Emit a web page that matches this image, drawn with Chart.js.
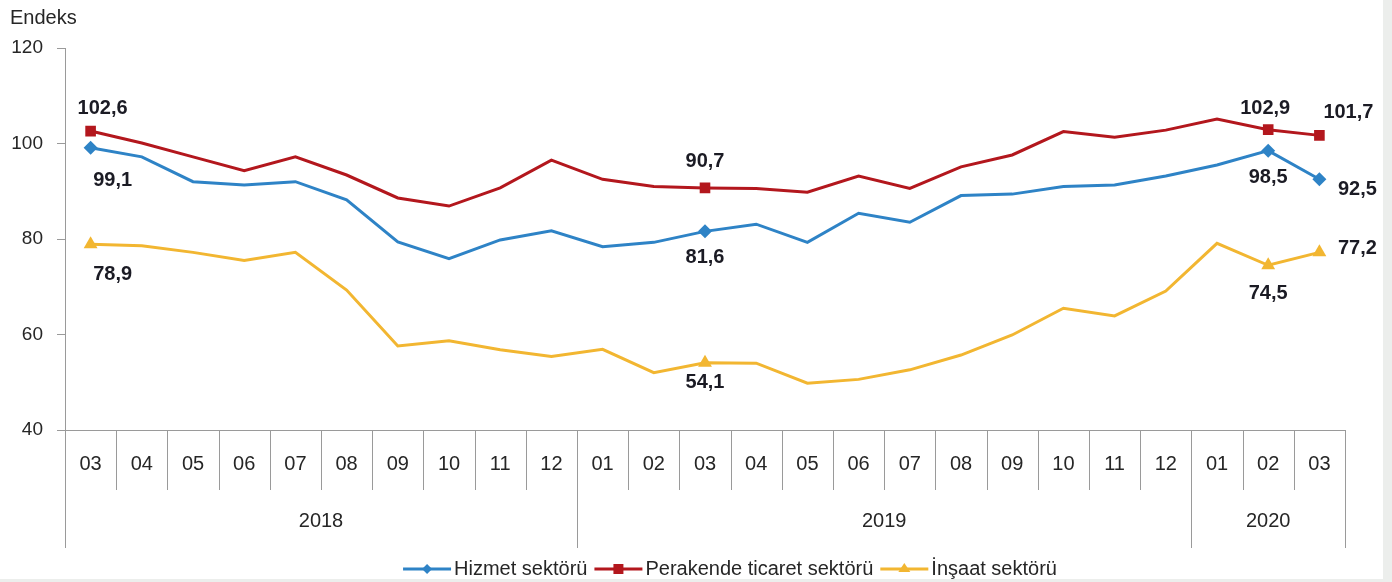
<!DOCTYPE html>
<html>
<head>
<meta charset="utf-8">
<script src="https://cdn.jsdelivr.net/npm/chart.js@4/dist/chart.umd.min.js"></script>
<style>
  body { margin: 0; background: linear-gradient(to right, #ffffff 1383px, #eceeec 1383px); }
  #wrap { position: relative; width: 1392px; height: 582px; }
  #wrap:after { content: ''; position: absolute; left: 0; right: 9px; bottom: 0; height: 3px; background: #eceeec; }
  canvas { display: block; }
</style>
</head>
<body>
<div id="wrap"><canvas id="chart" width="1392" height="582"></canvas></div>
<script>
// Aylar (2018/03 - 2020/03)
const months = ['03','04','05','06','07','08','09','10','11','12',
                '01','02','03','04','05','06','07','08','09','10','11','12',
                '01','02','03'];
const years = ['2018', '2019', '2020'];
const yearMonthCounts = [10, 12, 3];

// Seriler
const hizmet = [99.1, 97.2, 92.0, 91.3, 92.0, 88.2, 79.4, 75.9, 79.8, 81.7,
                78.4, 79.3, 81.6, 83.1, 79.3, 85.4, 83.5, 89.1, 89.4, 91.0, 91.3, 93.2,
                95.5, 98.5, 92.5];
const perakende = [102.6, 100.1, 97.2, 94.3, 97.2, 93.4, 88.6, 86.9, 90.7, 96.5,
                   92.5, 91.0, 90.7, 90.6, 89.8, 93.2, 90.6, 95.1, 97.6, 102.5, 101.3, 102.8,
                   105.1, 102.9, 101.7];
const insaat = [78.9, 78.6, 77.2, 75.5, 77.2, 69.3, 57.6, 58.7, 56.8, 55.4,
                56.9, 52.0, 54.1, 54.0, 49.8, 50.6, 52.6, 55.7, 59.9, 65.5, 63.9, 69.1,
                79.1, 74.5, 77.2];

// Etiketli noktalar
const markedIdx = [0, 12, 23, 24];

const colors = { hizmet: '#2e83c6', perakende: '#b3171d', insaat: '#f2b631' };
const axisColor = '#9a9a9a';
const textColor = '#262626';
const fontFam = '"Liberation Sans", Arial, sans-serif';

function radiusFor(r) {
    return ctx => markedIdx.includes(ctx.dataIndex) ? r : 0;
}

// Veri etiketlerinin konumu (nokta merkezine göre kaydırma)
const labelOffsets = [
    { 0: [22, 33], 12: [0, 26], 23: [0, 27], 24: [38, 10] },
    { 0: [12, -23], 12: [0, -26], 23: [-3, -21], 24: [29, -23] },
    { 0: [22, 30], 12: [0, 20], 23: [0, 28], 24: [38, -4] }
];

function fmt(v) { return v.toFixed(1).replace('.', ','); }

const customDraw = {
    id: 'customDraw',
    afterDraw(chart) {
        const ctx = chart.ctx;
        const area = chart.chartArea;
        const xs = chart.scales.x;
        const step = xs.getPixelForValue(1) - xs.getPixelForValue(0);
        const bottom = area.bottom;
        ctx.save();

        // Endeks başlığı
        ctx.fillStyle = textColor;
        ctx.font = '20px ' + fontFam;
        ctx.textAlign = 'left';
        ctx.textBaseline = 'middle';
        ctx.fillText('Endeks', 10, 18);

        // x ekseni
        ctx.strokeStyle = axisColor;
        ctx.lineWidth = 1;
        ctx.beginPath();
        ctx.moveTo(area.left, bottom + 0.5);
        ctx.lineTo(area.right, bottom + 0.5);
        ctx.stroke();

        // ay ayraçları
        const yearEdges = [0];
        yearMonthCounts.reduce((acc, n) => { yearEdges.push(acc + n); return acc + n; }, 0);
        for (let i = 0; i <= months.length; i++) {
            const x = Math.round(xs.getPixelForValue(i) - step / 2) + 0.5;
            const isYear = yearEdges.includes(i);
            ctx.beginPath();
            ctx.moveTo(x, bottom);
            ctx.lineTo(x, isYear ? 548 : 490);
            ctx.stroke();
        }

        // ay etiketleri
        ctx.font = '20px ' + fontFam;
        ctx.textAlign = 'center';
        months.forEach((m, i) => {
            ctx.fillText(m, xs.getPixelForValue(i), 464);
        });

        // yıl etiketleri
        years.forEach((y, k) => {
            const a = xs.getPixelForValue(yearEdges[k]) - step / 2;
            const b = xs.getPixelForValue(yearEdges[k + 1]) - step / 2;
            ctx.fillText(y, (a + b) / 2, 521);
        });

        // veri etiketleri
        ctx.font = 'bold 20px ' + fontFam;
        ctx.fillStyle = '#1b1b24';
        chart.data.datasets.forEach((ds, di) => {
            const meta = chart.getDatasetMeta(di);
            markedIdx.forEach(i => {
                const pt = meta.data[i];
                const off = labelOffsets[di][i];
                ctx.fillText(fmt(ds.data[i]), pt.x + off[0], pt.y + off[1]);
            });
        });

        // lejant
        const items = chart.data.datasets;
        ctx.font = '20px ' + fontFam;
        const lineLen = 48, gap = 3, itemGap = 7;
        const widths = items.map(d => lineLen + gap + ctx.measureText(d.label).width);
        const total = widths.reduce((a, b) => a + b, 0) + itemGap * (items.length - 1);
        let lx = 730 - total / 2;
        const ly = 569;
        items.forEach((d, k) => {
            ctx.strokeStyle = d.borderColor;
            ctx.lineWidth = 3;
            ctx.beginPath();
            ctx.moveTo(lx, ly);
            ctx.lineTo(lx + lineLen, ly);
            ctx.stroke();
            const cx = lx + lineLen / 2;
            ctx.fillStyle = d.borderColor;
            ctx.beginPath();
            if (d.pointStyle === 'rectRot') {
                ctx.moveTo(cx, ly - 5); ctx.lineTo(cx + 5, ly); ctx.lineTo(cx, ly + 5); ctx.lineTo(cx - 5, ly);
            } else if (d.pointStyle === 'rect') {
                ctx.rect(cx - 5, ly - 5, 10, 10);
            } else {
                ctx.moveTo(cx, ly - 6); ctx.lineTo(cx + 6, ly + 3); ctx.lineTo(cx - 6, ly + 3);
            }
            ctx.closePath();
            ctx.fill();
            ctx.fillStyle = textColor;
            ctx.textAlign = 'left';
            ctx.fillText(d.label, lx + lineLen + gap, ly);
            lx += widths[k] + itemGap;
        });

        ctx.restore();
    }
};

new Chart(document.getElementById('chart'), {
    type: 'line',
    data: {
        labels: months,
        datasets: [
            {
                label: 'Hizmet sektörü',
                data: hizmet,
                borderColor: colors.hizmet,
                backgroundColor: colors.hizmet,
                borderWidth: 3,
                pointStyle: 'rectRot',
                pointRadius: radiusFor(7),
                pointBorderWidth: 0,
                tension: 0
            },
            {
                label: 'Perakende ticaret sektörü',
                data: perakende,
                borderColor: colors.perakende,
                backgroundColor: colors.perakende,
                borderWidth: 3,
                pointStyle: 'rect',
                pointRadius: radiusFor(7.5),
                pointBorderWidth: 0,
                tension: 0
            },
            {
                label: 'İnşaat sektörü',
                data: insaat,
                borderColor: colors.insaat,
                backgroundColor: colors.insaat,
                borderWidth: 3,
                pointStyle: 'triangle',
                pointRadius: radiusFor(8),
                pointBorderWidth: 0,
                tension: 0
            }
        ]
    },
    options: {
        responsive: false,
        animation: false,
        layout: { padding: { top: 48, right: 47, bottom: 152, left: 0 } },
        plugins: {
            legend: { display: false },
            tooltip: { enabled: false }
        },
        scales: {
            x: {
                type: 'category',
                offset: true,
                display: false
            },
            y: {
                min: 40,
                max: 120,
                afterFit(scale) { scale.width = 65; },
                ticks: {
                    stepSize: 20,
                    padding: 14,
                    color: textColor,
                    font: { family: fontFam, size: 19 }
                },
                grid: {
                    drawOnChartArea: false,
                    drawTicks: true,
                    tickLength: 8,
                    color: axisColor
                },
                border: { display: true, color: axisColor }
            }
        }
    },
    plugins: [customDraw]
});
</script>
</body>
</html>
